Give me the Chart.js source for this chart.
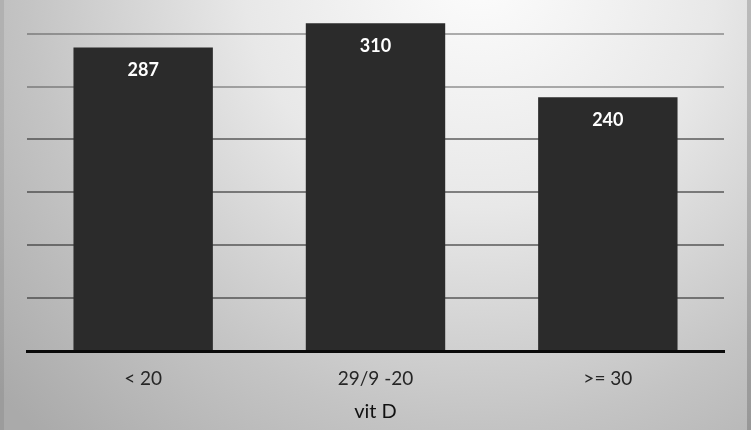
<!DOCTYPE html>
<html>
<head>
<meta charset="utf-8">
<script src="https://cdn.jsdelivr.net/npm/chart.js@4/dist/chart.umd.min.js"></script>
<style>
  html, body { margin: 0; padding: 0; background: #c8c8c8; }
  #wrap { width: 751px; height: 430px; position: relative; }
</style>
</head>
<body>
<div id="wrap"><canvas id="vitChart"></canvas></div>
<script>
// data
const categories = ['< 20', '29/9 -20', '>= 30'];
const counts = [287, 310, 240];
const axisTitle = 'vit D';

// gray radial background, lighter at top centre
const bgPlugin = {
     id: 'bgFill',
     beforeDraw: function (chart) {
          const c = chart.ctx;
          const w = chart.width, h = chart.height;
          c.save();
          const g = c.createRadialGradient(480, -30, 20, 480, -30, 640);
          g.addColorStop(0, '#fbfbfb');
          g.addColorStop(0.35, '#e8e8e8');
          g.addColorStop(0.7, '#c4c4c4');
          g.addColorStop(1, '#aaaaaa');
          c.fillStyle = g;
          c.fillRect(0, 0, w, h);
          // darker strips at the edges
          c.fillStyle = 'rgba(0,0,0,0.08)';
          c.fillRect(0, 0, 4, h);
          c.fillStyle = 'rgba(0,0,0,0.18)';
          c.fillRect(w - 4, 0, 4, h);
          c.restore();
     }
};

// value labels inside the top of each bar
const valuePlugin = {
     id: 'barValues',
     afterDatasetsDraw: function (chart) {
          const c = chart.ctx;
          const meta = chart.getDatasetMeta(0);
          c.save();
          c.fillStyle = '#ffffff';
          c.font = 'bold 18px Lato, "Open Sans", sans-serif';
          c.textAlign = 'center';
          c.textBaseline = 'middle';
          meta.data.forEach(function (bar, i) {
               c.fillText(String(counts[i]), bar.x, bar.y + 23);
          });
          c.restore();
     }
};

document.addEventListener('DOMContentLoaded', function () {
     const ctx = document.getElementById('vitChart').getContext('2d');
     new Chart(ctx, {
          type: 'bar',
          data: {
               labels: categories,
               datasets: [{
                    label: 'vit D',
                    data: counts,
                    backgroundColor: '#2b2b2b',
                    borderWidth: 0,
                    categoryPercentage: 0.6,
                    barPercentage: 1.0
               }]
          },
          options: {
               responsive: true,
               maintainAspectRatio: false,
               animation: false,
               layout: {
                    padding: { left: 27, right: 27, top: 2, bottom: 8 }
               },
               plugins: {
                    legend: { display: false },
                    tooltip: { enabled: false }
               },
               scales: {
                    x: {
                         grid: { display: false },
                         border: { display: true, color: '#0a0a0a', width: 3 },
                         ticks: {
                              color: '#262626',
                              padding: 10,
                              font: { family: 'Lato, "Open Sans", sans-serif', size: 19, lineHeight: 1 }
                         },
                         title: {
                              display: true,
                              text: axisTitle,
                              color: '#111111',
                              padding: { top: 4, bottom: 0 },
                              font: { family: 'Lato, "Open Sans", sans-serif', size: 20, lineHeight: 1 }
                         }
                    },
                    y: {
                         min: 0,
                         max: 330,
                         afterBuildTicks: function (axis) {
                              axis.ticks = axis.ticks.filter(function (t) { return t.value % 50 === 0; });
                         },
                         ticks: { display: false, stepSize: 50 },
                         border: { display: false },
                         grid: {
                              drawTicks: false,
                              lineWidth: 2,
                              color: function (c) {
                                   return c.tick && c.tick.value >= 250 ? 'rgba(60,60,60,0.4)' : 'rgba(40,40,40,0.55)';
                              }
                         }
                    }
               }
          },
          plugins: [bgPlugin, valuePlugin]
     });
});
</script>
</body>
</html>
